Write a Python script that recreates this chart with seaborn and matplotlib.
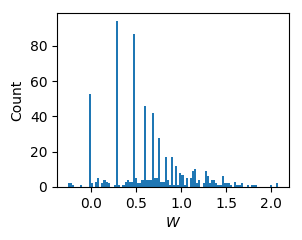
import numpy as np
import pandas as pd
import matplotlib
matplotlib.use("Agg")
import matplotlib.pyplot as plt
import seaborn as sns

# Histogram of W: 100 equal-width bins over [w_min, w_max]
w_min = -0.26
w_max = 2.084
n_bins = 100
counts = [
    2, 2, 1, 0, 0, 0, 1, 0, 0, 0,      # 0-9
    53, 2, 0, 3, 5, 0, 2, 4, 3, 2,     # 10-19
    0, 0, 1, 94, 1, 0, 1, 3, 4, 3,     # 20-29
    3, 87, 5, 2, 2, 4, 46, 4, 4, 4,    # 30-39
    42, 5, 5, 28, 3, 3, 17, 4, 1, 17,  # 40-49
    1, 12, 1, 8, 7, 1, 5, 0, 5, 9,     # 50-59
    10, 2, 4, 0, 2, 9, 6, 2, 4, 4,     # 60-69
    2, 1, 1, 6, 2, 2, 2, 1, 0, 3,      # 70-79
    1, 1, 2, 0, 0, 1, 0, 1, 1, 1,      # 80-89
    0, 0, 0, 0, 0, 0, 1, 0, 0, 2,      # 90-99
]

edges = np.linspace(w_min, w_max, n_bins + 1)
centers = (edges[:-1] + edges[1:]) / 2
df = pd.DataFrame({"W": centers, "n": counts})

fig = plt.figure(figsize=(3.02, 2.40), dpi=100)
ax = fig.add_axes([0.189, 0.221, 0.768, 0.725])
sns.histplot(data=df, x="W", weights="n", bins=n_bins, binrange=(w_min, w_max),
             ax=ax, color="#1f77b4", alpha=1, linewidth=0, edgecolor="none")
ax.set_xlabel("$W$")
ax.set_ylabel("Count")
ax.set_xticks([0.0, 0.5, 1.0, 1.5, 2.0])
ax.set_yticks([0, 20, 40, 60, 80])
fig.savefig("out.png", dpi=100)
